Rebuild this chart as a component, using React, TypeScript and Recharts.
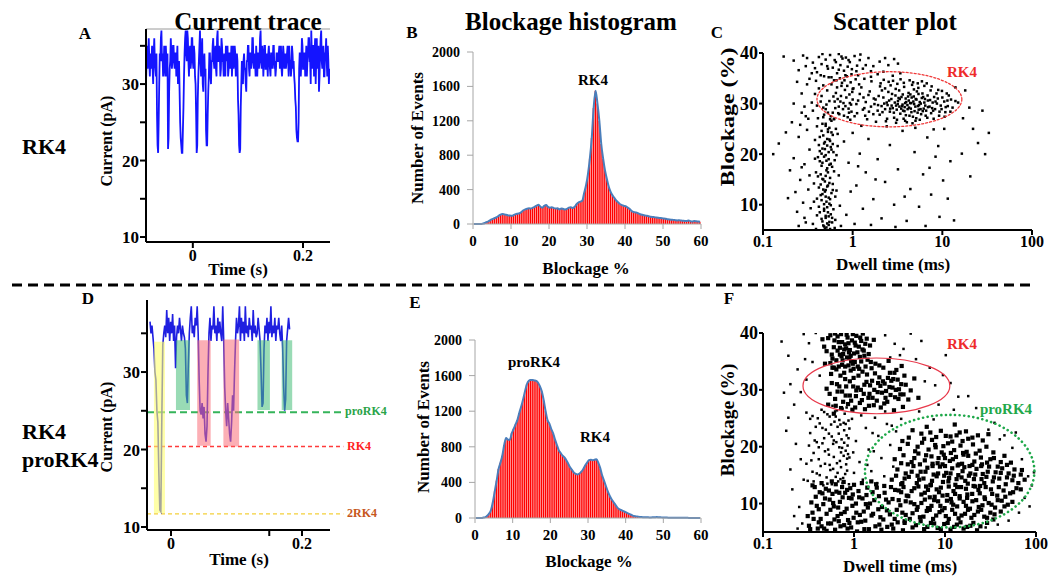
import React from 'react';
import {
  LineChart, Line, ComposedChart, Bar, ScatterChart, Scatter,
  XAxis, YAxis, ReferenceArea, ReferenceLine,
} from 'recharts';

const FONT = "'Liberation Serif', 'Times New Roman', Times, serif";

// ---------- current traces (pA), fixed sampling interval ----------
const traceAStart = -0.085;
const traceAStep = 0.001;
const traceA = [
  30, 33, 35, 32, 34, 36, 33, 31, 34, 32, 33, 35, 32, 30, 34, 36, 33, 32, 31, 34,
  26, 22, 21, 25, 30, 34, 33, 36, 37, 33, 34, 31, 32, 35, 33, 31, 35, 33, 31, 34,
  21.5, 23, 29, 32, 33, 36, 34, 32, 33, 35, 35, 33, 32, 34, 34, 31, 33, 35, 30, 32,
  33, 29, 25, 23, 22, 21, 21, 24, 27, 31, 34, 36, 37, 34, 33, 37, 36, 33, 31, 34,
  35, 32, 33, 36, 36, 33, 32, 35, 34, 31, 30, 26, 21, 22, 28, 31, 33, 35, 37, 33,
  31, 34, 36, 30, 29, 33, 34, 31, 32, 24, 22, 22, 26, 29, 31, 34, 34, 31, 30, 33,
  33, 35, 36, 33, 32, 34, 35, 32, 31, 36, 37, 33, 33, 35, 34, 31, 32, 36, 35, 33,
  33, 31, 34, 32, 31, 35, 33, 34, 35, 31, 32, 34, 34, 32, 33, 35, 31, 33, 35, 32,
  33, 35, 34, 31, 32, 34, 33, 28, 26, 22, 21, 21.5, 27, 30, 33, 31, 30, 33, 34, 32,
  32, 30, 29, 33, 33, 35, 35, 32, 31, 34, 34, 32, 33, 36, 36, 33, 32, 34, 33, 31,
  35, 33, 31, 34, 34, 32, 33, 36, 37, 33, 32, 35, 34, 31, 33, 35, 35, 32, 32, 34,
  33, 31, 34, 35, 33, 32, 31, 34, 34, 32, 33, 35, 35, 32, 33, 31, 32, 34, 34, 33,
  33, 34, 35, 32, 33, 35, 32, 31, 33, 35, 34, 32, 33, 34, 32, 33, 34, 35, 33, 31,
  35, 33, 33, 31, 32, 35, 34, 32, 33, 31, 30, 28, 27, 24, 23, 22.5, 22.5, 25, 32, 34,
  34, 31, 33, 36, 35, 32, 32, 34, 34, 31, 33, 35, 31, 33, 34, 36, 36, 33, 33, 30,
  37, 34, 32, 35, 35, 31, 34, 36, 30, 33, 36, 32, 33, 35, 29, 31, 34, 36, 37, 33,
  32, 34, 35, 31, 31, 34, 34, 36, 33, 31, 35, 33, 30, 32,
];

const traceDStart = -0.032;
const traceDStep = 0.0015;
const traceD = [
  36.5, 35, 36, 34.5,
  33, 30, 29, 25, 23.5, 17, 12.2, 12, 24, 33.5, 35,
  36, 34.5, 38, 35, 37, 34, 36.5, 35, 37.5, 34, 36,
  30.5, 34.5, 36, 35, 37, 35.5, 34, 36, 35, 34.5, 33, 27, 26, 31, 35,
  37, 38.5, 35, 36, 34.5, 37,
  36, 38.5, 35, 29, 25, 24.5, 26, 24, 25.5, 22, 21, 23, 30, 35,
  37, 34, 36, 35.5, 38.5, 35, 36, 34, 37, 35, 36.5, 35,
  34, 38.5, 34, 28, 25, 23, 26, 24, 22, 21, 23.5, 27, 25, 30, 34, 37, 35,
  36, 38.5, 34, 37, 35, 36.5, 34, 38.5, 35, 36, 34.5, 37, 35.5, 36, 34, 38, 35,
  36, 34.5, 35, 37, 35.5, 34, 30, 25.5, 26, 33, 36, 35, 37,
  34, 36.5, 35, 38.5, 34.5, 36, 35, 37, 34, 36, 35.5, 37,
  35, 34, 36, 33, 28, 25, 26.5, 34, 35.5, 37, 35.5,
];

// event windows in trace D: [t start, t end, open level, blocked level, species]
const eventsD: [number, number, number, number, string][] = [
  [-0.026, -0.0092, 33.9, 11.8, '2RK4'],
  [0.0076, 0.029, 34.1, 25.1, 'proRK4'],
  [0.040, 0.0606, 34.1, 20.5, 'RK4'],
  [0.080, 0.104, 34.2, 20.4, 'RK4'],
  [0.132, 0.151, 34.1, 25.1, 'proRK4'],
  [0.169, 0.185, 34.1, 25.1, 'proRK4'],
];
const levelNames = ['proRK4', 'RK4', '2RK4'];
const levelCurrents = [24.8, 20.4, 11.7];

// ---------- blockage histograms (0.5 % bins from 0 to 60 %) ----------
const histBinWidth = 0.5;
const histB = [
  0, 0, 0, 0, 0, 5, 15, 25, 35, 50,
  60, 70, 80, 95, 110, 115, 112, 108, 100, 98,
  95, 105, 115, 120, 125, 140, 160, 170, 178, 182,
  180, 190, 200, 215, 225, 200, 190, 210, 220, 200,
  190, 195, 185, 180, 182, 170, 180, 175, 168, 175,
  190, 195, 185, 200, 230, 250, 260, 270, 360, 450,
  580, 760, 1000, 1350, 1550, 1400, 1200, 930, 760, 620,
  520, 430, 370, 330, 300, 270, 250, 230, 220, 210,
  205, 190, 175, 150, 140, 135, 130, 118, 110, 105,
  100, 95, 90, 85, 82, 80, 75, 72, 70, 68,
  65, 60, 55, 52, 50, 48, 45, 42, 45, 40,
  38, 36, 35, 40, 33, 30, 35, 32, 28, 25,
];
const histE = [
  0, 0, 0, 0, 5, 10, 25, 50, 90, 180,
  300, 420, 550, 620, 700, 820, 900, 880, 880, 950,
  1000, 1050, 1100, 1180, 1250, 1330, 1420, 1500, 1540, 1550,
  1550, 1545, 1540, 1520, 1480, 1420, 1320, 1200, 1100, 1060,
  1000, 950, 880, 820, 760, 730, 700, 680, 650, 610,
  570, 540, 510, 495, 490, 500, 520, 550, 590, 620,
  650, 655, 650, 655, 660, 620, 560, 480, 420, 360,
  300, 250, 210, 180, 150, 120, 100, 90, 80, 70,
  60, 50, 40, 30, 22, 18, 15, 12, 10, 9,
  8, 8, 7, 7, 8, 9, 10, 9, 8, 6,
  5, 5, 4, 4, 4, 3, 3, 3, 2, 2,
  2, 2, 2, 1, 1, 1, 1, 1, 1, 1,
];

// ---------- scatter: [dwell time (ms), blockage (%)] ----------
const scatterC: [number, number][] = [
  [2.1,29.5],[2.4,30.2],[2.8,29.1],[3.2,30.5],[3.6,29.8],[4.1,28.9],[4.5,30.1],[5.0,29.4],[5.6,30.3],[6.2,29.0],
  [2.2,31.2],[2.6,28.4],[3.0,31.6],[3.4,28.0],[3.9,31.0],[4.3,27.6],[4.8,31.4],[5.3,28.2],[5.9,31.1],[6.6,28.6],
  [2.0,27.8],[2.5,32.3],[2.9,27.2],[3.3,32.6],[3.7,27.0],[4.2,32.1],[4.7,27.4],[5.2,32.4],[5.8,27.9],[6.9,30.6],
  [1.8,30.8],[1.9,28.6],[2.3,33.0],[2.7,30.9],[3.1,28.8],[3.5,31.3],[3.8,29.3],[4.4,31.8],[4.9,28.5],[5.5,29.7],
  [6.0,32.0],[6.4,30.9],[7.2,29.4],[7.8,30.2],[8.3,28.9],[8.9,31.0],[9.6,29.6],[10.5,30.4],[7.5,28.1],[8.6,32.0],
  [1.6,29.4],[1.5,31.7],[1.7,27.9],[1.4,30.3],[1.3,28.8],[1.2,31.9],[1.1,29.9],[1.05,27.5],[1.25,33.2],[1.45,26.9],
  [2.05,34.0],[2.65,33.6],[3.15,33.9],[3.75,33.3],[4.6,33.7],[5.4,33.1],[6.3,33.5],[2.35,26.5],[3.05,26.2],[3.85,26.6],
  [4.65,26.1],[5.6,26.8],[6.8,27.2],[8.0,27.0],[9.2,27.6],[10.8,28.3],[11.5,29.5],[12.5,30.8],[9.9,32.5],[11.2,32.0],
  [0.55,30.5],[0.6,28.2],[0.65,32.1],[0.7,29.4],[0.75,33.5],[0.8,27.6],[0.85,31.2],[0.9,29.0],[0.95,34.2],[1.0,30.8],
  [0.58,33.8],[0.62,26.9],[0.68,30.9],[0.72,35.0],[0.78,28.9],[0.82,32.7],[0.88,27.3],[0.92,31.8],[0.97,28.4],[1.02,33.0],
  [0.5,28.9],[0.52,32.6],[0.66,34.6],[0.74,31.5],[0.86,35.4],[0.94,26.8],[0.99,32.3],[1.08,34.8],[1.15,35.6],[1.35,34.9],
  [0.45,31.5],[0.48,27.8],[0.42,33.0],[0.4,29.6],[0.38,31.9],[1.6,35.3],[1.9,35.8],[2.2,36.3],[2.8,35.5],[3.4,36.0],
  [0.17,39.3],[0.22,38.5],[0.28,39.5],[0.25,36.6],[0.3,37.4],[0.33,34.9],[0.36,38.1],[0.4,36.2],[0.42,39.2],[0.45,37.8],
  [0.48,35.4],[0.5,38.7],[0.53,36.9],[0.56,39.6],[0.6,37.1],[0.63,38.6],[0.67,36.0],[0.7,39.8],[0.73,37.6],[0.77,38.9],
  [0.8,36.5],[0.84,39.1],[0.88,37.3],[0.93,38.2],[0.98,36.8],[1.05,39.4],[1.12,37.5],[1.2,38.6],[1.3,36.9],[1.5,39.0],
  [1.7,37.4],[2.0,38.3],[2.5,37.6],[3.2,37.9],[0.24,34.3],
  [0.5,26.0],[0.55,25.2],[0.45,24.6],[0.6,23.8],[0.52,23.0],[0.48,22.1],[0.57,21.4],[0.43,20.6],[0.5,19.8],[0.54,19.0],
  [0.46,18.3],[0.59,17.5],[0.51,16.8],[0.44,16.0],[0.56,15.3],[0.49,14.6],[0.53,13.8],[0.47,13.0],[0.58,12.3],[0.5,11.6],
  [0.45,10.9],[0.55,10.2],[0.52,9.5],[0.48,8.8],[0.57,8.1],[0.5,7.4],[0.46,6.7],[0.54,6.0],[0.51,5.5],[0.49,5.3],
  [0.4,25.5],[0.38,22.8],[0.41,19.4],[0.39,16.4],[0.42,13.4],[0.37,10.6],[0.4,7.9],[0.36,6.2],[0.65,25.0],[0.68,21.6],
  [0.63,18.8],[0.7,15.8],[0.66,12.8],[0.72,9.8],[0.64,7.0],[0.74,5.8],[0.62,27.0],[0.47,27.3],[0.53,28.2],[0.58,24.3],
  [0.43,23.4],[0.61,20.4],[0.55,17.9],[0.46,15.1],[0.6,14.1],[0.44,11.9],[0.56,11.1],[0.61,9.1],[0.43,8.5],[0.59,6.5],
  [0.53,24.9],[0.49,21.0],[0.52,17.2],[0.5,12.9],[0.48,10.1],[0.54,7.7],[0.47,5.9],[0.58,26.6],[0.45,20.1],[0.56,22.6],
  [0.13,20.0],[0.15,22.1],[0.2,16.8],[0.21,26.3],[0.22,19.2],[0.23,12.5],[0.24,8.6],[0.25,23.4],[0.26,14.9],[0.27,28.2],
  [0.28,10.4],[0.29,18.0],[0.3,6.5],[0.31,24.8],[0.32,13.0],[0.33,20.9],[0.34,9.3],[0.3,27.5],[0.27,17.4],[0.25,5.8],
  [0.22,30.0],[0.19,11.3],[0.18,24.3],[0.33,15.8],[0.29,7.4],
  [0.8,22.5],[0.9,18.3],[1.0,24.2],[1.1,13.8],[1.2,20.1],[1.3,9.2],[1.4,16.4],[1.5,23.0],[1.7,11.1],[1.9,19.0],
  [2.1,7.3],[2.3,14.5],[2.6,21.8],[2.9,10.0],[3.2,17.0],[3.6,24.6],[4.0,6.8],[4.4,13.1],[4.9,20.4],[5.5,9.6],
  [6.1,16.0],[6.8,23.3],[7.5,12.0],[8.4,19.5],[9.3,7.6],[10.2,14.8],[11.5,11.2],[12.3,18.6],[13.5,6.9],[8.0,24.9],
  [0.85,8.0],[0.95,12.6],[1.05,6.2],[1.15,17.6],[1.6,6.0],[2.4,25.5],[3.0,5.6],[5.0,25.2],[6.5,5.8],[9.0,21.6],
  [10.5,25.0],[7.2,17.3],[3.8,11.6],[1.8,15.0],[1.25,25.6],
  [15.0,30.2],[17.0,27.1],[20.0,29.2],[22.0,25.0],[25.0,22.2],[28.0,28.6],[30.0,20.0],[33.0,24.2],[20.5,15.6],[16.5,20.1],
  [14.0,33.2],[18.0,32.6],
  [1.15,30.6],[1.35,29.1],[1.55,32.4],[1.75,29.9],[1.95,31.5],[2.15,28.3],[2.45,29.7],[2.75,31.9],[3.05,29.6],[3.35,30.9],
  [3.65,28.6],[3.95,30.3],[4.25,29.2],[4.55,31.2],[4.85,29.9],[5.15,30.8],[5.45,28.8],[5.75,30.0],[6.05,28.5],[6.45,29.6],
  [6.85,31.6],[7.3,30.7],[7.7,29.1],[8.1,31.3],[8.7,30.0],[9.3,28.4],[10.0,31.2],[10.9,29.3],[11.8,31.6],[13.0,29.2],
  [1.12,28.1],[1.32,31.2],[1.52,28.4],[1.72,31.0],[1.92,29.7],[2.12,32.6],[2.42,27.0],[2.72,29.6],[3.02,32.9],[3.32,29.4],
  [3.62,31.8],[3.92,27.7],[4.22,30.6],[4.52,28.3],[4.82,32.8],[5.12,27.1],[5.42,31.9],[5.72,28.9],[6.12,31.3],[6.52,27.6],
  [6.92,29.3],[7.4,32.6],[7.9,28.6],[8.4,30.4],[9.0,32.7],[9.8,28.9],[10.6,27.4],[11.4,30.6],[12.3,28.4],[14.0,30.5],
  [1.0,32.9],[1.18,33.8],[1.38,27.6],[1.62,34.4],[1.82,26.4],[2.02,33.4],[2.22,34.7],[2.52,34.3],[2.82,34.5],[3.12,26.8],
  [3.42,34.8],[3.72,34.1],[4.02,26.3],[4.32,34.6],[4.72,34.2],[5.02,26.6],[5.32,34.0],[5.92,34.4],[6.7,34.0],[7.6,33.4],
  [2.25,30.0],[2.55,30.6],[2.95,30.2],[3.25,31.1],[3.55,29.5],[3.85,30.1],[4.15,31.4],[4.45,29.0],[4.75,30.4],[5.05,30.9],
  [2.3,28.9],[2.62,29.0],[2.88,28.2],[3.18,29.9],[3.48,29.0],[3.78,28.5],[4.08,29.7],[4.38,30.1],[5.35,29.5],[6.3,30.2],
  [0.36,28.6],[0.41,27.1],[0.44,30.4],[0.47,33.6],[0.51,29.8],[0.54,35.2],[0.57,27.5],[0.61,31.4],[0.64,29.1],[0.67,33.2],
  [0.71,27.9],[0.73,30.4],[0.76,34.1],[0.79,30.1],[0.83,29.5],[0.87,33.5],[0.91,28.2],[0.96,29.8],[0.39,34.5],[0.35,30.2],
  [0.32,27.0],[0.29,29.4],[0.27,32.0],[0.26,25.8],[0.31,33.8],[0.47,29.2],[0.63,30.4],[0.69,28.1],[0.81,34.6],[0.93,30.1],
  [0.5,25.6],[0.53,24.4],[0.47,23.7],[0.55,22.9],[0.49,22.4],[0.52,21.7],[0.46,21.1],[0.54,20.4],[0.48,19.5],[0.51,18.7],
  [0.57,18.1],[0.45,17.7],[0.53,16.4],[0.5,15.7],[0.47,15.0],[0.55,14.3],[0.52,13.6],[0.49,12.6],[0.46,12.1],[0.54,11.4],
  [0.51,10.6],[0.57,9.9],[0.48,9.2],[0.53,8.5],[0.5,7.8],[0.45,7.2],[0.55,6.6],[0.52,6.3],[0.48,5.7],[0.56,5.2],
  [0.6,22.0],[0.42,21.8],[0.62,16.6],[0.41,15.6],[0.64,11.6],[0.4,11.2],[0.63,5.4],[0.39,5.2],[0.66,19.8],[0.43,18.6],
  [0.58,20.9],[0.44,14.0],[0.6,12.9],[0.42,9.6],[0.59,7.4],[0.46,26.0],[0.56,26.9],[0.38,19.1],[0.68,24.0],[0.37,14.2],
  [0.35,36.0],[0.44,35.6],[0.52,37.4],[0.58,35.2],[0.65,38.2],[0.7,36.7],[0.75,39.3],[0.83,35.6],[0.9,38.6],[0.97,35.8],
  [1.1,36.4],[1.22,39.7],[1.4,37.6],[1.6,36.4],[0.46,39.8],[0.62,34.6],[0.31,39.0],[0.38,37.0],[2.3,39.0],[2.9,38.8],
];

const scatterFDense: [number, number][] = [
  [0.32,6.1],[0.35,8.4],[0.38,11.2],[0.4,5.6],[0.43,7.3],[0.46,9.9],[0.49,12.6],[0.52,6.5],[0.55,8.9],[0.58,11.7],
  [0.62,5.4],[0.66,7.8],[0.7,10.3],[0.74,12.9],[0.78,6.2],[0.83,9.1],[0.88,11.0],[0.93,5.8],[0.99,7.5],[1.05,10.0],
  [1.12,12.2],[1.2,6.8],[1.28,8.6],[1.37,11.5],[1.46,5.5],[1.56,7.9],[1.67,10.6],[1.78,12.8],[1.9,6.3],[2.03,9.4],
  [2.17,11.9],[2.32,5.9],[2.48,8.1],[2.65,10.8],[2.83,12.4],[3.02,6.7],[3.23,9.7],[3.45,5.3],[3.7,8.0],[3.95,11.3],
  [0.34,10.2],[0.37,12.9],[0.41,9.0],[0.45,11.8],[0.5,5.2],[0.54,10.7],[0.6,9.5],[0.64,12.1],[0.72,8.2],[0.8,11.9],
  [0.86,7.1],[0.96,9.6],[1.08,5.1],[1.16,8.0],[1.24,10.9],[1.42,9.3],[1.6,12.0],[1.72,6.0],[2.1,7.2],[2.4,10.2],
  [2.7,5.6],[2.95,8.9],[3.3,12.0],[3.6,6.6],[0.31,7.8],[0.44,6.0],[0.68,6.9],[0.91,12.7],[1.33,7.0],[1.85,9.0],
  [0.33,5.5],[0.36,7.3],[0.39,9.6],[0.42,12.0],[0.44,13.6],[0.47,5.6],[0.5,8.2],[0.53,12.3],[0.56,6.5],[0.59,10.1],
  [0.63,13.4],[0.67,9.3],[0.71,6.0],[0.75,11.1],[0.79,8.5],[0.84,12.4],[0.89,6.6],[0.94,10.9],[1.0,13.3],[1.06,8.4],
  [1.14,11.1],[1.22,13.6],[1.3,5.5],[1.4,12.8],[1.5,10.0],[1.62,8.2],[1.75,13.4],[1.88,11.3],[2.0,5.4],[2.15,13.1],
  [2.3,8.8],[2.55,12.9],[2.8,7.3],[3.1,10.6],[3.4,13.6],[0.35,13.2],[0.41,6.7],[0.48,10.9],[0.57,13.9],[0.61,7.2],
  [0.69,11.9],[0.77,13.8],[0.85,5.6],[0.97,11.6],[1.1,6.7],[1.35,9.9],[1.55,13.9],[1.95,7.6],[2.25,10.7],[2.6,6.3],
  [4.0,21.6],[5.5,22.3],[7.2,21.2],[9.0,22.8],[11.5,21.8],[14.5,22.5],[18.0,21.4],[23.0,22.0],[6.3,23.5],[12.8,23.9],
  [3.4,21.0],[4.4,22.9],[5.0,20.0],[5.9,21.4],[6.9,22.5],[8.0,21.7],[9.6,20.1],[10.2,21.9],[12.0,20.9],[13.4,22.0],
  [15.6,21.0],[17.0,22.7],[20.0,21.6],[26.0,21.1],[30.0,22.2],
  [3.2,19.6],[3.9,20.5],[4.7,19.2],[5.6,20.7],[6.6,19.5],[7.8,20.3],[9.2,19.0],[10.8,20.6],[12.6,19.4],[14.8,20.2],
  [17.3,19.1],[20.3,20.4],[24.0,19.3],[28.5,20.0],[34.0,19.0],
  [2.8,17.8],[3.5,18.5],[4.3,17.3],[5.1,18.8],[6.0,17.6],[7.1,18.3],[8.3,17.1],[9.7,18.6],[11.3,17.5],[13.2,18.2],
  [15.4,17.0],[18.0,18.4],[21.0,17.4],[24.8,18.1],[29.0,17.2],[34.5,18.0],[41.0,17.3],[48.0,16.8],
  [3.3,17.1],[3.9,16.9],[4.6,18.0],[5.3,16.9],[6.2,18.5],[7.3,16.6],[8.5,18.0],[10.0,16.6],[11.6,18.9],[13.8,16.7],
  [16.0,18.6],[18.6,16.6],[21.8,18.8],[25.5,16.9],[31.5,17.8],[38.0,16.5],[45.0,18.4],[53.0,17.2],
  [3.0,16.0],[3.7,15.3],[4.5,16.6],[5.4,15.6],[6.4,16.3],[7.5,15.1],[8.8,16.5],[10.3,15.4],[12.0,16.2],[14.0,15.0],
  [16.3,16.4],[19.0,15.3],[22.2,16.1],[26.0,15.2],[30.5,16.5],[36.0,15.5],[42.5,16.2],[50.0,15.3],[58.0,16.0],[68.0,15.1],
  [2.9,14.9],[3.6,14.4],[4.3,15.6],[5.2,14.2],[6.1,15.6],[7.2,14.0],[8.4,15.3],[9.8,14.9],[11.5,15.3],[13.4,14.3],
  [15.6,15.7],[18.3,14.9],[21.5,15.1],[25.2,14.3],[29.5,15.6],[34.5,14.6],[41.0,15.4],[48.0,14.6],[57.0,14.9],[70.0,15.9],
  [2.6,14.2],[3.3,13.4],[4.0,14.7],[4.9,13.6],[5.8,14.4],[6.9,13.2],[8.1,14.8],[9.5,13.8],[11.1,14.5],[13.0,13.3],
  [15.2,14.6],[17.8,13.5],[20.8,14.3],[24.3,13.1],[28.5,14.7],[33.5,13.9],[39.5,14.4],[46.5,13.4],[55.0,14.1],[64.0,13.6],
  [75.0,14.2],
  [3.1,12.3],[3.8,11.4],[4.6,12.7],[5.5,11.6],[6.5,12.4],[7.7,11.2],[9.0,12.8],[10.6,11.5],[12.4,12.2],[14.5,11.3],
  [17.0,12.6],[19.9,11.7],[23.3,12.4],[27.2,11.1],[32.0,12.5],[37.5,11.4],[44.0,12.3],[52.0,11.8],[61.0,12.7],
  [3.5,12.9],[4.3,12.2],[5.1,13.0],[6.0,11.9],[7.0,13.3],[8.1,12.5],[9.4,11.4],[11.0,13.0],[12.9,11.7],[15.0,12.9],
  [17.6,11.6],[20.6,13.1],[24.1,11.8],[28.0,12.9],[33.0,11.7],[39.0,12.9],[46.0,11.2],[56.0,12.0],[68.0,12.5],
  [4.2,10.2],[5.0,9.4],[6.0,10.7],[7.1,9.6],[8.4,10.4],[9.9,9.2],[11.6,10.8],[13.6,9.5],[16.0,10.3],[18.8,9.1],
  [22.0,10.6],[25.8,9.7],[30.2,10.1],[35.5,9.3],[42.0,10.5],[49.0,9.8],
  [3.7,10.4],[4.6,9.9],[5.5,10.1],[6.5,9.2],[7.6,10.6],[8.9,9.6],[10.5,10.5],[12.3,9.8],[14.5,10.9],[17.0,9.6],
  [20.0,10.4],[23.5,9.4],[27.5,10.8],[32.5,9.8],[38.0,10.6],[45.0,9.5],[55.0,10.3],
  [4.4,8.3],[5.3,7.6],[6.3,8.7],[7.4,7.3],[8.7,8.5],[10.2,7.8],[12.0,8.9],[14.1,7.4],[16.6,8.2],[19.5,7.5],
  [23.0,8.6],[27.0,7.7],[31.5,8.4],
  [3.4,8.4],[4.1,7.3],[4.9,8.9],[5.8,7.7],[6.8,8.9],[8.0,7.9],[9.3,8.8],[11.0,7.3],[12.9,8.2],[15.2,7.9],
  [17.9,8.9],[21.0,8.0],[25.0,8.9],[29.0,7.5],[35.0,8.1],[41.0,8.6],
  [4.8,6.2],[5.9,5.5],[7.0,6.6],[8.3,5.7],[9.8,6.4],[11.5,5.4],[13.5,6.3],[16.0,5.6],[19.0,6.1],[22.5,5.3],
  [3.6,6.9],[4.4,5.8],[5.4,6.9],[6.4,5.9],[7.6,6.5],[9.0,5.5],[10.7,6.6],[12.6,5.9],[14.8,6.7],[17.5,5.9],
  [20.5,6.6],[24.5,6.0],[29.0,6.6],[34.0,7.2],
  [5.0,14.9],[6.2,13.0],[7.3,17.0],[8.6,12.0],[9.4,16.9],[10.9,13.9],[12.2,17.8],[13.6,12.9],[15.8,18.9],[17.5,11.0],
  [20.0,16.8],[21.5,13.0],[25.0,16.6],[27.0,13.6],[7.9,19.9],[6.8,11.1],[10.0,18.0],[11.8,10.2],[14.2,16.9],[16.7,14.0],
  [0.5,30.2],[0.56,32.8],[0.62,28.4],[0.68,34.1],[0.74,29.7],[0.8,31.9],[0.86,27.5],[0.92,33.4],[0.98,30.6],[1.05,28.9],
  [1.12,32.5],[1.2,35.0],[1.28,29.3],[1.37,31.4],[1.46,27.2],[1.56,33.8],[1.67,30.0],[1.78,28.1],[1.9,32.2],[2.03,29.5],
  [2.17,31.1],[2.32,27.9],[2.48,33.0],[2.65,30.4],[2.83,28.7],[3.02,31.8],[3.23,29.2],[3.45,27.0],[3.7,30.9],[3.95,28.3],
  [0.58,35.5],[0.65,31.0],[0.72,26.8],[0.78,33.0],[0.84,35.7],[0.9,29.0],[0.96,26.5],[1.02,34.9],[1.1,30.4],[1.16,27.7],
  [1.24,33.2],[1.32,26.6],[1.41,35.3],[1.5,30.8],[1.6,28.6],[1.72,34.6],[1.84,31.2],[1.97,26.9],[2.1,33.9],[2.25,29.8],
  [2.4,35.1],[2.57,31.6],[2.75,26.4],[2.92,33.5],[3.12,30.1],[3.34,34.2],[3.58,32.5],[4.2,29.9],[4.6,32.0],[5.1,28.6],
  [0.52,27.4],[0.6,25.8],[0.7,36.2],[0.88,36.6],[1.3,36.0],
  [0.54,29.3],[0.6,33.9],[0.66,29.7],[0.71,32.5],[0.76,27.9],[0.82,30.6],[0.87,34.3],[0.93,28.1],[0.99,32.1],[1.06,29.9],
  [1.14,33.7],[1.22,28.2],[1.3,30.9],[1.39,32.7],[1.48,29.3],[1.58,31.6],[1.7,32.9],[1.82,29.6],[1.95,30.7],[2.08,31.5],
  [2.22,28.6],[2.36,32.1],[2.52,29.1],[2.7,31.9],[2.88,30.0],[3.08,28.4],[3.3,31.0],[0.57,31.2],[0.63,27.2],[0.69,30.6],
  [0.75,35.2],[0.81,29.0],[0.9,31.5],[0.97,34.6],[1.03,26.9],[1.19,30.0],[1.34,34.1],[1.44,28.6],[1.53,34.9],[1.65,27.3],
  [1.9,34.3],[2.15,27.6],[2.45,30.5],[2.78,33.0],[3.5,29.2],
  [0.45,38.9],[0.5,36.8],[0.55,39.6],[0.6,37.5],[0.64,35.2],[0.68,38.4],[0.72,39.8],[0.76,36.3],[0.8,38.0],[0.85,39.2],
  [0.9,37.0],[0.95,38.7],[1.0,36.4],[1.06,39.5],[1.13,37.6],[1.2,38.6],[1.28,36.9],[1.38,39.0],[1.5,37.8],[1.65,38.8],
  [0.48,34.6],[0.58,33.9],[0.66,36.9],[0.74,34.4],[0.82,37.3],[0.93,35.0],[1.04,37.8],[1.16,35.8],[1.25,39.9],[0.62,39.9],
  [0.47,37.6],[0.52,39.1],[0.57,36.2],[0.61,38.7],[0.66,39.4],[0.7,37.4],[0.74,38.4],[0.78,37.1],[0.83,39.7],[0.87,38.2],
  [0.92,36.0],[0.97,39.8],[1.02,38.3],[1.09,36.6],[1.17,39.2],[1.24,37.1],[1.33,38.1],[0.55,34.7],[0.64,33.6],[0.73,35.9],
  [0.8,34.1],[0.89,35.6],[0.99,33.7],[1.1,34.1],[1.45,36.3],
];

const scatterFSparse: [number, number][] = [
  [0.3,26.0],[0.33,22.4],[0.36,18.9],[0.39,15.3],[0.42,24.1],[0.45,20.6],[0.48,17.0],[0.51,13.5],[0.54,25.3],[0.57,21.8],
  [0.6,18.2],[0.63,14.7],[0.66,23.5],[0.69,19.9],[0.72,16.4],[0.75,26.7],[0.78,22.9],[0.81,19.3],[0.84,15.8],[0.87,24.6],
  [0.31,14.0],[0.34,17.6],[0.37,21.1],[0.4,25.0],[0.43,16.6],[0.46,13.2],[0.49,23.0],[0.52,19.5],[0.55,15.9],[0.58,27.2],
  [0.61,24.4],[0.64,20.8],[0.67,13.9],[0.7,17.5],[0.73,21.3],[0.76,14.5],[0.79,25.8],[0.82,16.9],[0.85,20.2],[0.88,13.4],
  [0.35,25.4],[0.41,19.9],[0.47,26.1],[0.53,22.3],[0.59,16.1],[0.65,26.4],[0.71,23.9],[0.77,18.4],[0.83,22.0],[0.89,18.1],
  [0.32,20.2],[0.35,15.6],[0.38,23.5],[0.41,17.8],[0.44,26.5],[0.47,21.5],[0.5,14.6],[0.53,18.6],[0.56,23.9],[0.59,20.5],
  [0.62,26.2],[0.65,17.1],[0.68,22.3],[0.71,14.3],[0.74,19.8],[0.77,24.2],[0.8,15.2],[0.83,26.9],[0.86,18.7],[0.89,23.2],
  [0.3,17.0],[0.33,24.9],[0.36,13.9],[0.39,20.8],[0.42,15.0],[0.45,23.3],[0.48,19.2],[0.51,25.7],[0.54,16.8],[0.57,13.4],
  [0.6,21.1],[0.63,25.3],[0.66,15.4],[0.69,24.7],[0.72,19.0],[0.75,13.6],[0.78,20.7],[0.81,24.0],[0.84,17.9],[0.87,21.5],
  [0.95,24.9],[1.05,21.0],[1.15,17.3],[1.25,14.2],[1.35,23.3],[1.45,19.5],[1.55,15.7],[1.7,25.1],[1.85,21.9],[2.0,18.0],
  [2.15,14.8],[2.3,24.0],[2.5,20.3],[2.7,16.5],[2.9,22.7],[1.0,15.4],[1.2,25.5],[1.4,16.8],[1.6,22.4],[1.8,13.6],
  [2.2,26.2],[2.6,23.7],[3.3,24.9],[0.98,19.0],[1.65,19.2],
  [0.16,38.5],[0.19,36.0],[0.2,31.0],[0.22,27.4],[0.18,22.8],[0.2,16.0],[0.21,12.5],[0.24,33.6],[0.26,29.6],[0.23,20.5],
  [0.25,9.4],[0.27,6.5],[0.28,39.8],[0.29,35.4],[0.17,29.5],[0.19,25.1],[0.26,17.8],[0.28,14.2],[0.22,7.8],[0.24,5.6],
  [0.3,31.8],[0.32,38.2],[0.35,34.9],[0.38,40.0],[0.42,32.5],
  [2.2,39.6],[2.8,38.1],[3.5,37.2],[4.2,39.9],[5.5,38.6],[6.8,33.9],[7.8,30.8],[9.5,32.6],[11.5,31.2],[14.0,28.8],
  [4.8,35.4],[6.0,31.5],[8.5,27.4],[12.5,26.5],[18.0,28.9],[5.2,26.2],[7.5,24.8],[3.2,36.1],[2.5,35.7],[10.2,36.1],
  [22.0,26.8],
  [45.0,22.0],[55.0,19.8],[70.0,17.8],[82.0,14.8],[90.0,13.2],[85.0,9.5],[65.0,8.4],[50.0,7.0],[38.0,6.3],[28.0,5.8],
  [40.0,21.3],[60.0,22.5],[75.0,11.0],[95.0,15.5],[30.0,23.0],[35.0,24.2],
];

// gates drawn on the scatter plots: [dwell min, dwell max, blockage min, blockage max]
const gateC_RK4 = [0.4, 16.5, 25.4, 36.3];
const gateF_RK4 = [0.275, 11.3, 25.8, 35.6];
const gateF_pro = [1.32, 96, 5.8, 25.6];

// ticks
const timeTicksA = [0, 0.2];
const timeTicksD = [0, 0.15, 0.2];
const currentTicks = [10, 15, 20, 25, 30, 35];
const countTicks = [0, 400, 800, 1200, 1600, 2000];
const blockTicks = [0, 10, 20, 30, 40, 50, 60];
const dwellTicks = [0.1, 1, 10, 100];
const blockPctTicks = [10, 20, 30, 40];

// ---------- helpers ----------
const YW = 60, XH = 40, PAD = 30;
function frame(x0: number, x1: number, y0: number, y1: number, right = 12) {
  const left = x0 - PAD - YW;
  const top = y0 - PAD;
  return {
    style: { position: 'absolute' as const, left, top },
    width: x1 + right - left,
    height: y1 + XH + 5 - top,
    margin: { top: PAD, left: PAD, right, bottom: 5 },
  };
}

const tickFont = (size: number) => ({ fill: '#000', fontSize: size, fontFamily: FONT, fontWeight: 700 });
const black = { axisLine: { stroke: '#000', strokeWidth: 2 }, tickLine: { stroke: '#000', strokeWidth: 2 } };
const gray = { axisLine: { stroke: '#a6a6a6', strokeWidth: 1 }, tickLine: { stroke: '#a6a6a6', strokeWidth: 1 } };

const traceRows = (vals: number[], t0: number, dt: number) => vals.map((v, i) => ({ t: t0 + i * dt, v }));
const histRows = (counts: number[]) => counts.map((n, i) => ({ x: i * histBinWidth + histBinWidth / 2, n }));
const pointRows = (pts: [number, number][]) => pts.map(([x, y]) => ({ x, y }));

const square = (s: number) => (p: any) => (
  <rect x={p.cx - s / 2} y={p.cy - s / 2} width={s} height={s} fill="#000" />
);
const ellipse = (stroke: string, w: number, dash?: string) => (p: any) => (
  <ellipse
    cx={p.x + p.width / 2} cy={p.y + p.height / 2}
    rx={Math.abs(p.width) / 2} ry={Math.abs(p.height) / 2}
    fill="none" stroke={stroke} strokeWidth={w} strokeDasharray={dash} strokeLinecap="round"
  />
);

const levelStyle: Record<string, { stroke: string; w: number; dash: string; text: string }> = {
  proRK4: { stroke: '#35b45a', w: 2, dash: '7 4', text: '#2aa448' },
  RK4: { stroke: '#ff3b3b', w: 1.5, dash: '4 3', text: '#ff2222' },
  '2RK4': { stroke: '#f3cf3a', w: 1.3, dash: '4 3', text: '#c6571c' },
};
const eventFill: Record<string, string> = {
  '2RK4': 'rgba(255,255,110,0.6)',
  RK4: 'rgba(250,110,120,0.55)',
  proRK4: 'rgba(70,190,120,0.55)',
};

function Txt({ x, y, size = 16, color = '#000', rot = false, stretch = 1, left = false, children }: any) {
  const tr = `translate(${left ? '0' : '-50%'}, -50%)${rot ? ' rotate(-90deg)' : ''}${stretch !== 1 ? ` scaleX(${stretch})` : ''}`;
  return (
    <div style={{
      position: 'absolute', left: x, top: y, transform: tr, fontFamily: FONT, fontWeight: 700,
      fontSize: size, color, whiteSpace: 'nowrap', lineHeight: 1,
    }}>{children}</div>
  );
}

const fmtTime = (v: number) => (v === 0 ? '0' : v === 0.15 ? '' : String(v));
const fmtCurrent = (v: number) => (v % 10 === 0 ? String(v) : '');

function Trace({ box, data, xDomain, yDomain, xTicks, children, right = 12 }: any) {
  const f = frame(box[0], box[1], box[2], box[3], right);
  return (
    <div style={f.style}>
      <LineChart width={f.width} height={f.height} margin={f.margin} data={data}>
        <XAxis dataKey="t" type="number" domain={xDomain} allowDataOverflow ticks={xTicks}
          tickFormatter={fmtTime} height={XH} {...black} tickSize={6} tickMargin={2} tick={tickFont(16)} />
        <YAxis type="number" domain={yDomain} allowDataOverflow ticks={currentTicks}
          tickFormatter={fmtCurrent} width={YW} {...black} tickSize={6} tickMargin={1} tick={tickFont(17)} />
        {children}
      </LineChart>
    </div>
  );
}

function Histogram({ box, counts }: any) {
  const f = frame(box[0], box[1], box[2], box[3]);
  return (
    <div style={f.style}>
      <ComposedChart width={f.width} height={f.height} margin={f.margin} data={histRows(counts)}>
        <XAxis dataKey="x" type="number" domain={[0, 60]} ticks={blockTicks} height={XH}
          {...gray} tickSize={5} tickMargin={6} tick={tickFont(15)} />
        <YAxis type="number" domain={[0, 2000]} ticks={countTicks} width={YW}
          {...gray} tickSize={6} tickMargin={7} tick={tickFont(14)} />
        <Bar dataKey="n" fill="#ff0000" barSize={1.4} isAnimationActive={false} />
        <Line dataKey="n" type="monotone" stroke="#4a7ebb" strokeWidth={2} dot={false} isAnimationActive={false} />
      </ComposedChart>
    </div>
  );
}

function ScatterPanel({ box, children }: any) {
  const f = frame(box[0], box[1], box[2], box[3]);
  return (
    <div style={f.style}>
      <ScatterChart width={f.width} height={f.height} margin={f.margin}>
        <XAxis dataKey="x" type="number" scale="log" domain={[0.1, 100]} allowDataOverflow ticks={dwellTicks}
          tickFormatter={(v: number) => String(v)} height={XH} {...black} tickSize={5} tickMargin={1} tick={tickFont(16)} />
        <YAxis dataKey="y" type="number" domain={[5, 40]} allowDataOverflow ticks={blockPctTicks}
          width={YW} {...black} tickSize={4} tickMargin={1} tick={tickFont(18)} />
        {children}
      </ScatterChart>
    </div>
  );
}

export default function App() {
  const dDomainX = [-0.0366, 0.2427];
  return (
    <div style={{ position: 'absolute', left: 0, top: 0, width: 1050, height: 580, background: '#fff', overflow: 'hidden' }}>
      {/* A */}
      <Trace box={[146, 330, 29, 242]} data={traceRows(traceA, traceAStart, traceAStep)}
        xDomain={[-0.085, 0.249]} yDomain={[9.35, 37.2]} xTicks={timeTicksA}>
        <ReferenceLine y={37.2} stroke="#9a9a9a" strokeWidth={1} />
        <Line dataKey="v" stroke="#1414ff" strokeWidth={1.8} dot={false} isAnimationActive={false} />
      </Trace>

      {/* D */}
      <Trace box={[147, 330, 300, 530]} data={traceRows(traceD, traceDStart, traceDStep)}
        xDomain={dDomainX} yDomain={[9.61, 39.3]} xTicks={timeTicksD} right={75}>
        <ReferenceLine segment={[{ x: dDomainX[0], y: 9.61 }, { x: dDomainX[0], y: 37 }]}
          stroke="#000" strokeWidth={2} ifOverflow="visible" />
        {levelNames.map((name, i) => (
          <ReferenceLine key={name} segment={[{ x: dDomainX[0], y: levelCurrents[i] }, { x: 0.263, y: levelCurrents[i] }]}
            stroke={levelStyle[name].stroke} strokeWidth={levelStyle[name].w}
            strokeDasharray={levelStyle[name].dash} ifOverflow="visible" />
        ))}
        <Line dataKey="v" stroke="#1f1fe0" strokeWidth={1.6} dot={false} isAnimationActive={false} />
        {eventsD.map((e, i) => (
          <ReferenceArea key={i} x1={e[0]} x2={e[1]} y1={e[3]} y2={e[2]} fill={eventFill[e[4]]}
            fillOpacity={1} stroke="none" ifOverflow="visible" zIndex={700} />
        ))}
      </Trace>

      <Histogram box={[473, 701, 52, 224]} counts={histB} />
      <Histogram box={[475, 701, 340, 518]} counts={histE} />

      {/* C */}
      <ScatterPanel box={[763, 1032, 53, 230]}>
        <Scatter data={pointRows(scatterC)} shape={square(2.5)} isAnimationActive={false} />
        <ReferenceArea x1={gateC_RK4[0]} x2={gateC_RK4[1]} y1={gateC_RK4[2]} y2={gateC_RK4[3]}
          shape={ellipse('#f03a3a', 1.3, '2 2')} zIndex={900} />
      </ScatterPanel>

      {/* F */}
      <ScatterPanel box={[763, 1036, 333, 532]}>
        <Scatter data={pointRows(scatterFSparse)} shape={square(2.5)} isAnimationActive={false} />
        <Scatter data={pointRows(scatterFDense)} shape={square(4.2)} isAnimationActive={false} />
        <ReferenceArea x1={gateF_RK4[0]} x2={gateF_RK4[1]} y1={gateF_RK4[2]} y2={gateF_RK4[3]}
          shape={ellipse('#e8384a', 1.2)} zIndex={900} />
        <ReferenceArea x1={gateF_pro[0]} x2={gateF_pro[1]} y1={gateF_pro[2]} y2={gateF_pro[3]}
          shape={ellipse('#1fa84a', 2.6, '0.1 4.5')} zIndex={900} />
      </ScatterPanel>

      {/* separator */}
      <svg style={{ position: 'absolute', left: 0, top: 280 }} width={1050} height={10}>
        <line x1={12} x2={1034} y1={5} y2={5} stroke="#000" strokeWidth={3} strokeDasharray="10 6" />
      </svg>

      {/* column titles */}
      <Txt x={248} y={21} size={25}>Current trace</Txt>
      <Txt x={571} y={21} size={25}>Blockage histogram</Txt>
      <Txt x={895} y={21} size={25}>Scatter plot</Txt>

      {/* panel letters */}
      <Txt x={85} y={33} size={17}>A</Txt>
      <Txt x={412} y={32} size={17}>B</Txt>
      <Txt x={717} y={32} size={17}>C</Txt>
      <Txt x={88} y={298} size={17}>D</Txt>
      <Txt x={415} y={302} size={17}>E</Txt>
      <Txt x={729} y={298} size={17}>F</Txt>

      {/* row labels */}
      <Txt x={22} y={147} size={22} left>RK4</Txt>
      <Txt x={22} y={432} size={22} left>RK4</Txt>
      <Txt x={22} y={460} size={22} left>proRK4</Txt>

      {/* axis titles */}
      <Txt x={107} y={141} size={16} rot>Current (pA)</Txt>
      <Txt x={238} y={269} size={17}>Time (s)</Txt>
      <Txt x={107} y={427} size={16} rot>Current (pA)</Txt>
      <Txt x={239} y={559} size={17}>Time (s)</Txt>
      <Txt x={417} y={138} size={17} rot>Number of Events</Txt>
      <Txt x={586} y={268} size={17}>Blockage %</Txt>
      <Txt x={423} y={427} size={17} rot>Number of Events</Txt>
      <Txt x={589} y={561} size={17}>Blockage %</Txt>
      <Txt x={728} y={117} size={18} rot stretch={1.33}>Blockage (%)</Txt>
      <Txt x={893} y={264} size={17}>Dwell time (ms)</Txt>
      <Txt x={728} y={420} size={18} rot stretch={1.08}>Blockage (%)</Txt>
      <Txt x={900} y={566} size={17}>Dwell time (ms)</Txt>

      {/* annotations */}
      <Txt x={593} y={80} size={15}>RK4</Txt>
      <Txt x={534} y={362} size={15}>proRK4</Txt>
      <Txt x={595} y={437} size={15}>RK4</Txt>
      <Txt x={962} y={72} size={15} color="#ee2a2a">RK4</Txt>
      <Txt x={962} y={344} size={15} color="#ee2a2a">RK4</Txt>
      <Txt x={1006} y={409} size={15} color="#22a84a">proRK4</Txt>
      <Txt x={345} y={411} size={12} color={levelStyle.proRK4.text} left>proRK4</Txt>
      <Txt x={347} y={446} size={12} color={levelStyle.RK4.text} left>RK4</Txt>
      <Txt x={347} y={513} size={12} color={levelStyle['2RK4'].text} left>2RK4</Txt>
    </div>
  );
}
